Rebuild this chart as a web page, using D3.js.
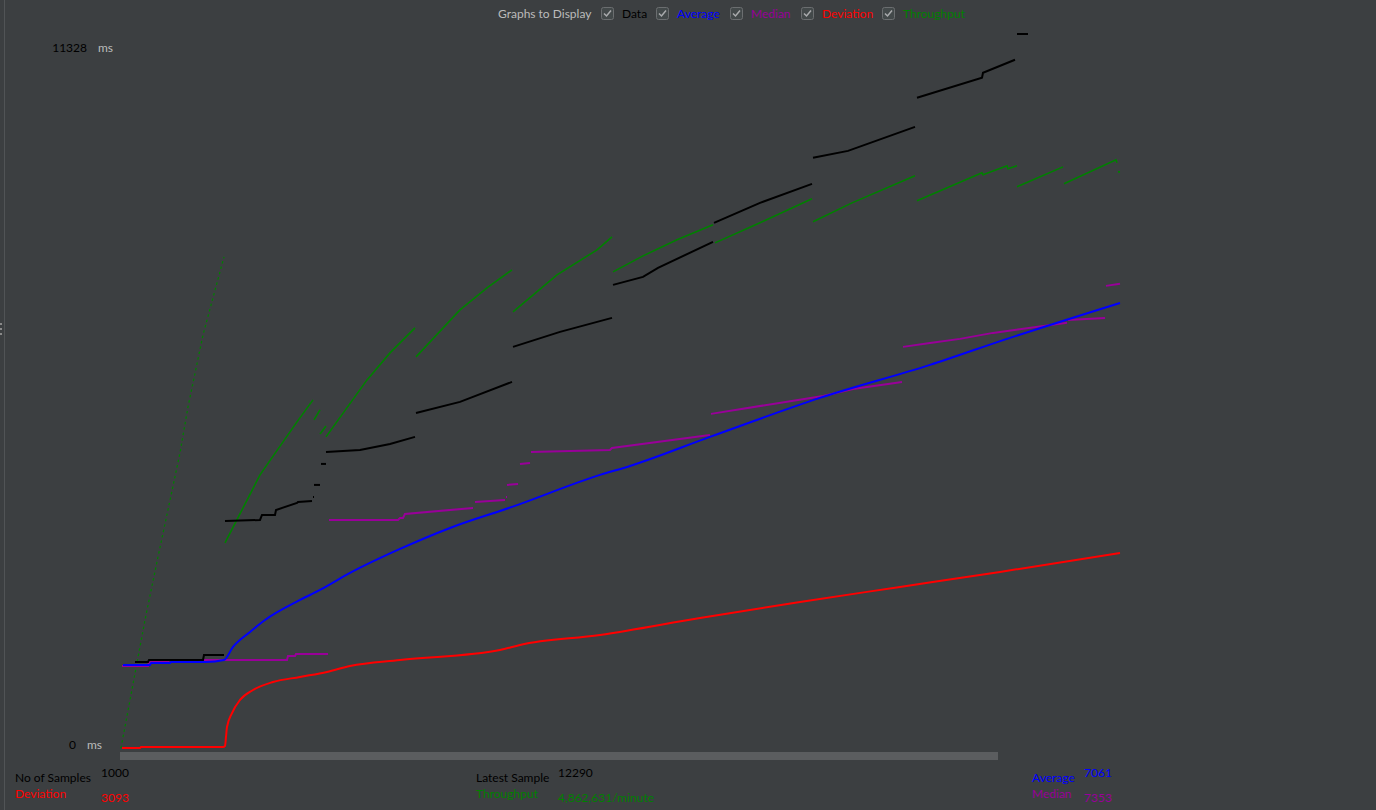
<!DOCTYPE html>
<html>
<head>
<meta charset="utf-8">
<script src="https://cdn.jsdelivr.net/npm/d3@7"></script>
<style>
  html, body { margin: 0; padding: 0; background: #3c3f41; }
  svg { display: block; }
  text { font-family: Lato, "Open Sans", sans-serif; font-size: 12px; }
</style>
</head>
<body>
<svg id="chart" width="1376" height="810"></svg>
<script>
// ---------- data (values in ms, x = sample number) ----------
const sampleCount = 1000;
const yMaxMs = 11328;
const yTickLabels = ["11328", "0"];
const legendItems = ["Data", "Average", "Median", "Deviation", "Throughput"];

const dataSeries = [
  [15,1365],[28,1365],[29,1397],[83,1397],[84,1476],[104,1476], null,
  [105,3602],[140,3618],[142,3698],[155,3698],[156,3777],[177,3888],[178,3904],[192,3920], null,
  [193,3983],[194,3983], null,
  [194,4174],[200,4174], null,
  [201,4507],[206,4507], null,
  [206,4698],[240,4729],[270,4824],[295,4936], null,
  [296,5316],[340,5491],[392,5808], null,
  [393,6364],[440,6602],[492,6824], null,
  [493,7348],[523,7475],[538,7618],[593,8030], null,
  [594,8332],[640,8649],[692,8951], null,
  [693,9363],[728,9474],[795,9855], null,
  [797,10316],[862,10633],[863,10712],[895,10919], null,
  [897,11328],[908,11328]
];

const averageSeries = [
  [3,1317],[30,1317],[31,1349],[50,1349],[51,1365],[86,1365],[104,1397],[113,1603],
  [130,1841],[145,2031],[180,2349],[200,2507],[230,2777],[280,3158],[330,3491],[392,3825],
  [480,4333],[510,4475],[590,4936],[700,5555],[810,6078],[887,6491],[1000,7061]
];

const medianSeries = [
  [2,1301],[28,1301],[29,1365],[48,1365],[49,1397],[167,1397],[168,1460],[175,1460],[176,1492],[208,1492], null,
  [209,3618],[278,3618],[280,3650],[283,3650],[285,3714],[353,3809], null,
  [355,3904],[385,3936], null,
  [386,3983],[387,3983], null,
  [387,4174],[398,4190], null,
  [400,4507],[410,4523], null,
  [411,4698],[490,4729],[492,4761],[590,4967], null,
  [591,5301],[703,5586],[733,5697],[782,5808], null,
  [783,6364],[810,6427],[840,6491],[873,6586],[947,6745], null,
  [948,6792],[985,6824], null,
  [986,7332],[1000,7364]
];

const deviationSeries = [
  [2,0],[20,0],[21,16],[103,16],[105,32],[106,175],[107,333],[112,555],[120,762],
  [133,920],[153,1047],[180,1127],[207,1206],[230,1301],[280,1397],[380,1555],
  [400,1635],[480,1793],[580,2063],[680,2317],[780,2555],[880,2793],[1000,3095]
];

const throughputSeries = [
  [1,0],[25,2031],[38,3031],[60,4682],[68,5412],[83,6554],[104,7792], null,
  [105,3253],[140,4333],[177,5174],[193,5523], null,
  [194,5205],[200,5364], null,
  [200,4983],[206,5110], null,
  [206,4936],[247,5840],[270,6269],[295,6665], null,
  [296,6205],[340,6951],[367,7300],[392,7586], null,
  [393,6919],[437,7507],[477,7903],[492,8110], null,
  [493,7554],[523,7808],[557,8062],[593,8300], null,
  [595,8014],[640,8332],[692,8713], null,
  [693,8348],[732,8649],[795,9078], null,
  [797,8681],[862,9125],[863,9094],[887,9236],[888,9189],[897,9236], null,
  [897,8903],[943,9220], null,
  [944,8951],[996,9332],[997,9284], null,
  [998,9141],[1000,9141]
];

const statLabels = ["No of Samples", "Deviation", "Latest Sample", "Throughput", "Average", "Median"];
const statValues = ["1000", "3093", "12290", "4,862,631/minute", "7061", "7353"];

// ---------- drawing ----------
const colors = {
  Data: "#000000", Average: "#0000ff", Median: "#990099",
  Deviation: "#ff0000", Throughput: "#008000", label: "#bbbbbb"
};

const svg = d3.select("#chart");

// left panel border + splitter grip
svg.append("line").attr("x1", 4.5).attr("x2", 4.5).attr("y1", 0).attr("y2", 810)
  .attr("stroke", "#515456").attr("stroke-width", 1);
[323, 328, 333].forEach(y => svg.append("rect").attr("x", 0).attr("y", y).attr("width", 2).attr("height", 2).attr("fill", "#8a8a8a"));

const x = d3.scaleLinear().domain([0, sampleCount]).range([120, 1120]);
const y = d3.scaleLinear().domain([0, yMaxMs]).range([748, 34]);

// header: Graphs to Display
const header = svg.append("g");
header.append("text").attr("x", 498).attr("y", 18).attr("fill", colors.label).text("Graphs to Display");
const boxX = [601, 656, 730, 801, 882];
const labX = [622, 677, 751, 822, 903];
legendItems.forEach((name, i) => {
  const g = header.append("g").attr("transform", `translate(${boxX[i]},7)`);
  g.append("rect").attr("x", 0.5).attr("y", 0.5).attr("width", 12).attr("height", 12).attr("rx", 2)
    .attr("fill", "#43494a").attr("stroke", "#6b6e70");
  g.append("path").attr("d", "M3,6.5 L5.5,9 L10,3.5").attr("fill", "none")
    .attr("stroke", "#a9abad").attr("stroke-width", 1.5);
  header.append("text").attr("x", labX[i]).attr("y", 18).attr("fill", colors[name]).text(name);
});

// y labels
svg.append("text").attr("x", 87).attr("y", 52).attr("text-anchor", "end").attr("fill", "#000").text(yTickLabels[0]);
svg.append("text").attr("x", 98).attr("y", 52).attr("fill", colors.label).text("ms");
svg.append("text").attr("x", 76).attr("y", 749).attr("text-anchor", "end").attr("fill", "#000").text(yTickLabels[1]);
svg.append("text").attr("x", 87).attr("y", 749).attr("fill", colors.label).text("ms");

// scrollbar
svg.append("rect").attr("x", 120).attr("y", 752).attr("width", 878).attr("height", 8).attr("fill", "#5b5d5f");

// series lines
function splitSegments(arr) {
  const segs = []; let cur = [];
  arr.forEach(d => { if (d === null) { if (cur.length) segs.push(cur); cur = []; } else cur.push(d); });
  if (cur.length) segs.push(cur);
  return segs;
}

function drawSeries(arr, color, width, curve) {
  const line = d3.line().x(d => x(d[0])).y(d => y(d[1])).curve(curve || d3.curveLinear);
  splitSegments(arr).forEach(seg => {
    const dx = x(seg[seg.length - 1][0]) - x(seg[0][0]);
    const dy = Math.abs(y(seg[seg.length - 1][1]) - y(seg[0][1]));
    const steep = dx > 0 && dy / dx > 3;
    svg.append("path").datum(seg).attr("d", line)
      .attr("fill", "none").attr("stroke", color)
      .attr("stroke-width", steep ? 1.2 : width)
      .attr("stroke-dasharray", steep ? "2.5,3" : null);
  });
}

drawSeries(throughputSeries, colors.Throughput, 1.6);
drawSeries(deviationSeries, colors.Deviation, 2, d3.curveMonotoneX);
drawSeries(medianSeries, colors.Median, 2);
drawSeries(averageSeries, colors.Average, 2, d3.curveMonotoneX);
drawSeries(dataSeries, colors.Data, 2);

// stats footer
const statPos = [
  {lx: 15, ly: 782, vx: 101, vy: 777, c: "#000"},
  {lx: 15, ly: 798, vx: 101, vy: 802, c: colors.Deviation},
  {lx: 476, ly: 782, vx: 558, vy: 777, c: "#000"},
  {lx: 476, ly: 798, vx: 558, vy: 802, c: colors.Throughput},
  {lx: 1032, ly: 782, vx: 1084, vy: 777, c: colors.Average},
  {lx: 1032, ly: 798, vx: 1084, vy: 802, c: colors.Median}
];
statLabels.forEach((lab, i) => {
  const p = statPos[i];
  svg.append("text").attr("x", p.lx).attr("y", p.ly).attr("fill", p.c).text(lab);
  svg.append("text").attr("x", p.vx).attr("y", p.vy).attr("fill", p.c).text(statValues[i]);
});
</script>
</body>
</html>
